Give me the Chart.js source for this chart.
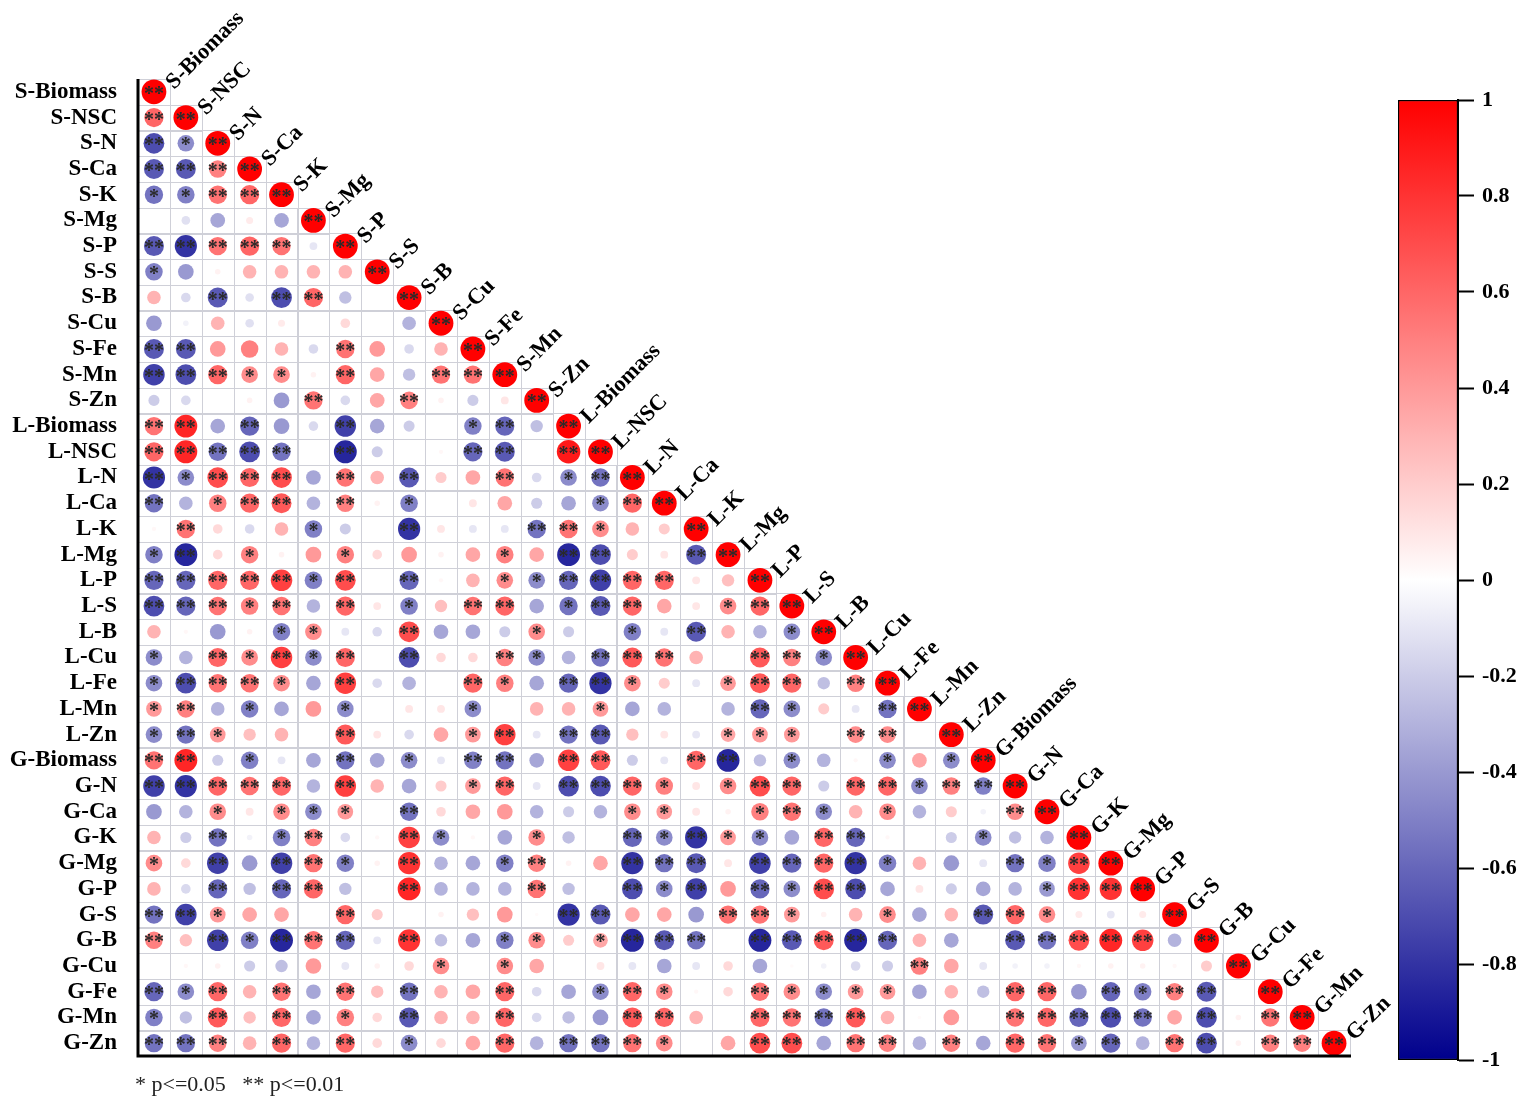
<!DOCTYPE html>
<html>
<head>
<meta charset="utf-8">
<script src="https://cdn.jsdelivr.net/npm/chart.js@4/dist/chart.umd.min.js"></script>
<style>
  html,body{margin:0;padding:0;background:#fff;}
  #wrap{position:relative;width:1535px;height:1103px;}
  #main{position:absolute;left:0;top:0;}
  #cbar{position:absolute;left:1380px;top:0;}
</style>
</head>
<body>
<div id="wrap">
  <canvas id="main" width="1535" height="1103"></canvas>
  <canvas id="cbar" width="155" height="1103"></canvas>
</div>
<script>
// ---- tick labels (variables) ----
const varNames = ["S-Biomass","S-NSC","S-N","S-Ca","S-K","S-Mg","S-P","S-S","S-B","S-Cu","S-Fe","S-Mn","S-Zn",
  "L-Biomass","L-NSC","L-N","L-Ca","L-K","L-Mg","L-P","L-S","L-B","L-Cu","L-Fe","L-Mn","L-Zn",
  "G-Biomass","G-N","G-Ca","G-K","G-Mg","G-P","G-S","G-B","G-Cu","G-Fe","G-Mn","G-Zn"];

// ---- correlation values (lower triangle rows) ----
const corrS = [
  [1],
  [0.6,1],
  [-0.7,-0.45,1],
  [-0.65,-0.65,0.5,1],
  [-0.55,-0.5,0.55,0.6,1],
  [0,-0.12,-0.35,0.08,-0.35,1],
  [-0.65,-0.8,0.55,0.6,0.55,-0.1,1],
  [-0.5,-0.4,0.05,0.3,0.3,0.3,0.3,1],
  [0.3,-0.15,-0.65,-0.12,-0.7,0.6,-0.25,0,1],
  [-0.4,-0.05,0.3,-0.12,0.08,0,0.15,0,-0.3,1],
  [-0.65,-0.65,0.4,0.5,0.3,-0.15,0.55,0.4,-0.15,0.3,1],
  [-0.75,-0.7,0.6,0.45,0.45,0.05,0.6,0.35,-0.25,0.55,0.55,1],
  [-0.2,-0.15,0,0.05,-0.4,0.55,-0.15,0.35,0.5,0.05,-0.2,0.1,1]
];
const corrL = [
  [0.55,0.85,-0.35,-0.6,-0.4,-0.15,-0.75,-0.35,-0.2,0,-0.5,-0.6,-0.25,1],
  [0.6,0.85,-0.55,-0.7,-0.55,0,-0.85,-0.2,0,0.03,-0.6,-0.65,0,0.9,1],
  [-0.8,-0.45,0.7,0.6,0.7,-0.35,0.55,0.3,-0.65,0.2,0.35,0.55,-0.15,-0.45,-0.55,1],
  [-0.55,-0.3,0.5,0.6,0.65,-0.3,0.5,0.05,-0.5,0,0.1,0.35,-0.2,-0.35,-0.45,0.6,1],
  [0.03,0.55,0.15,-0.15,0.3,-0.5,-0.2,0,-0.8,0.1,-0.1,-0.1,-0.55,0.55,0.45,0.3,0.2,1],
  [-0.5,-0.85,0.15,0.5,0.05,0.4,0.5,0.15,0.4,0.05,0.35,0.5,0.35,-0.85,-0.7,0.2,0.1,-0.65,1],
  [-0.6,-0.6,0.6,0.6,0.75,-0.5,0.7,0,-0.6,0.03,0.3,0.45,-0.45,-0.6,-0.75,0.6,0.6,0.1,0.25,1],
  [-0.7,-0.6,0.55,0.5,0.55,-0.3,0.6,0.1,-0.5,0.25,0.55,0.6,-0.35,-0.55,-0.65,0.6,0.35,0.1,0.45,0.6,1],
  [0.3,0.03,-0.4,0.05,-0.5,0.45,-0.1,-0.15,0.7,-0.35,-0.35,-0.2,0.45,-0.2,0,-0.5,-0.1,-0.65,0.3,-0.3,-0.45,1],
  [-0.45,-0.3,0.6,0.45,0.75,-0.45,0.6,0,-0.7,0.15,0.15,0.5,-0.45,-0.3,-0.55,0.65,0.55,0.3,0,0.65,0.5,-0.45,1],
  [-0.45,-0.7,0.55,0.55,0.45,-0.35,0.75,-0.15,-0.3,0,0.6,0.5,-0.35,-0.6,-0.8,0.45,0.2,-0.1,0.4,0.65,0.6,-0.25,0.5,1],
  [0.4,0.5,-0.3,-0.5,-0.35,0.4,-0.45,0,0.1,0.1,-0.45,0,0.3,0.3,0.4,-0.35,-0.3,0,-0.3,-0.6,-0.45,0.2,-0.1,-0.55,1],
  [-0.45,-0.55,0.4,0.25,0.3,0,0.65,0.1,-0.15,0.35,0.4,0.75,-0.1,-0.55,-0.65,0.25,0.1,-0.1,0.35,0.4,0.4,0,0.45,0.45,0,1]
];
const corrG = [
  [0.55,0.85,-0.2,-0.5,-0.1,-0.35,-0.55,-0.35,-0.45,-0.1,-0.5,-0.55,-0.35,0.75,0.65,-0.2,-0.1,0.6,-0.85,-0.25,-0.45,-0.3,0.03,-0.45,0.35,-0.45,1],
  [-0.75,-0.8,0.6,0.55,0.6,-0.3,0.75,0.3,-0.35,0.2,0.4,0.6,-0.1,-0.7,-0.7,0.6,0.5,0.1,0.45,0.7,0.6,-0.2,0.6,0.6,-0.45,0.5,-0.5,1],
  [-0.4,-0.3,0.45,0.1,0.45,-0.45,0.4,0,-0.55,0.15,0.35,0.4,-0.3,-0.2,-0.3,0.45,0.4,0.1,0.05,0.5,0.55,-0.45,0.3,0.45,-0.3,0.2,-0.05,0.45,1],
  [0.3,-0.2,-0.55,-0.05,-0.5,0.5,-0.15,0.03,0.75,-0.45,0.03,-0.35,0.45,-0.25,0,-0.6,-0.45,-0.8,0.4,-0.45,-0.35,0.6,-0.6,0.03,0,-0.2,-0.45,-0.25,-0.3,1],
  [0.45,0.15,-0.75,-0.4,-0.75,0.55,-0.5,0.05,0.8,-0.3,-0.35,-0.5,0.5,0.05,0.35,-0.8,-0.55,-0.65,0.1,-0.75,-0.6,0.6,-0.8,-0.5,0.3,-0.4,-0.1,-0.55,-0.5,0.75,1],
  [0.3,-0.15,-0.6,-0.25,-0.6,0.6,-0.25,0,0.85,-0.3,-0.3,-0.3,0.55,-0.25,0,-0.7,-0.45,-0.75,0.4,-0.6,-0.45,0.7,-0.7,-0.35,0.1,-0.2,-0.35,-0.3,-0.4,0.8,0.8,1],
  [-0.55,-0.75,0.4,0.35,0.35,0,0.6,0.2,0,0.05,0.25,0.4,0.02,-0.8,-0.65,0.35,0.35,-0.4,0.55,0.55,0.4,0.05,0.3,0.45,-0.35,0.3,-0.65,0.6,0.45,0.08,-0.1,0.08,1],
  [0.5,0.25,-0.75,-0.5,-0.85,0.55,-0.6,-0.1,0.8,-0.25,-0.35,-0.5,0.45,0.2,0.35,-0.85,-0.65,-0.55,0,-0.85,-0.65,0.65,-0.85,-0.6,0.3,-0.35,0,-0.65,-0.55,0.7,0.85,0.75,-0.3,1],
  [0,0.03,0.05,-0.2,-0.25,0.4,-0.1,0.05,0.15,0.45,0,0.45,0.35,0,0.1,-0.1,-0.35,-0.1,0.15,-0.35,0.02,-0.05,-0.15,-0.2,0.5,0.35,-0.1,-0.05,-0.05,0.03,0.05,0.05,0.03,0.2,1],
  [-0.6,-0.45,0.6,0.3,0.55,-0.35,0.55,0.25,-0.55,0.3,0.35,0.6,-0.15,-0.35,-0.45,0.6,0.45,0.03,0.15,0.55,0.45,-0.45,0.4,0.4,-0.35,0.3,-0.25,0.6,0.6,-0.4,-0.6,-0.5,0.5,-0.65,0,1],
  [-0.5,-0.25,0.65,0.25,0.6,-0.35,0.5,0.15,-0.65,0.3,0.3,0.6,-0.15,-0.25,-0.4,0.65,0.6,0.3,0,0.6,0.55,-0.55,0.65,0.3,0.02,0.4,0,0.55,0.6,-0.6,-0.7,-0.55,0.35,-0.7,0.05,0.55,1],
  [-0.55,-0.55,0.5,0.3,0.6,-0.3,0.6,0.15,-0.45,0.15,0.35,0.6,-0.3,-0.55,-0.55,0.55,0.45,0,0.35,0.7,0.7,-0.35,0.55,0.5,-0.3,0.5,-0.35,0.6,0.55,-0.4,-0.6,-0.3,0.55,-0.7,0.05,0.5,0.5,1]
];

// ---- significance marks per row (0 none, 1 = *, 2 = **) ----
const starsS = ["2","22","212","2222","11222","000002","2222202","10000002","002022002","0000000002",
  "22000020002","222110200222","0000020020002"];
const starsL = ["22020020001202","222220200022022","2122202020020122","20122020100000122",
  "020001002000221002","1201001000010220022","22222120200112222002","222120201022012200122",
  "0000110020001001020012","10212120200210222002212","122210200021022100122022",
  "1201001000100010000210022","12100020001202200011102202"];
const starsG = ["220100201022022002201001012","2222202000120222101220221222",
  "00101110200000011001210100022","002012002100100212110220001002",
  "1020221020012002220222210002122","00202200200020021202122000001222",
  "221000200000022000221001002210002","2021222020011012220222220002222202",
  "00000000010100000000000020000000002","212020202002001210021111000220212202",
  "1020201020020002200222200002222202022","22202020100202221002202202022120220222"];
const footnote = "* p<=0.05   ** p<=0.01";
const cbarTicks = { min: -1, max: 1, step: 0.2 };

// ---- build points ----
const allCorr = corrS.concat(corrL, corrG);
const allStars = starsS.concat(starsL, starsG);
const points = [];
allCorr.forEach((row, r) => {
  row.forEach((v, c) => points.push({ x: c, y: r, v: v, s: +(allStars[r][c] || 0) }));
});

function corrColor(v) {
  const a = Math.min(1, Math.abs(v));
  const g = Math.round(255 * (1 - a));
  if (v >= 0) return `rgb(255,${g},${g})`;
  const b = Math.round(255 - 115 * a);
  return `rgb(${g},${g},${b})`;
}

const SERIF = "'Liberation Serif','Times New Roman',serif";
const RMAX = 12.4;

const decor = {
  id: 'decor',
  beforeDatasetsDraw(chart) {
    const { ctx, scales: { x, y } } = chart;
    ctx.save();
    ctx.strokeStyle = '#cfd0d8';
    ctx.lineWidth = 1;
    for (let r = 0; r < varNames.length; r++) {
      for (let c = 0; c <= r; c++) {
        const x0 = x.getPixelForValue(c - 0.5), x1 = x.getPixelForValue(c + 0.5);
        const y0 = y.getPixelForValue(r - 0.5), y1 = y.getPixelForValue(r + 0.5);
        ctx.strokeRect(Math.round(x0) + 0.5, Math.round(y0) + 0.5, Math.round(x1 - x0), Math.round(y1 - y0));
      }
    }
    ctx.restore();
  },
  afterDatasetsDraw(chart) {
    const { ctx, chartArea: ca, scales: { x, y } } = chart;
    ctx.save();
    // significance stars
    ctx.fillStyle = '#2a2a2a';
    ctx.font = `bold 20px ${SERIF}`;
    ctx.textAlign = 'center';
    ctx.textBaseline = 'alphabetic';
    points.forEach(p => {
      if (!p.s) return;
      ctx.fillText(p.s === 2 ? '**' : '*', x.getPixelForValue(p.x), y.getPixelForValue(p.y) + 8);
    });
    // diagonal labels
    ctx.fillStyle = '#000';
    ctx.font = `bold 22.5px ${SERIF}`;
    ctx.textAlign = 'left';
    ctx.textBaseline = 'middle';
    varNames.forEach((n, i) => {
      ctx.save();
      ctx.translate(x.getPixelForValue(i) + 16, y.getPixelForValue(i) - 6);
      ctx.rotate(-Math.PI / 4);
      ctx.fillText(n, 0, 0);
      ctx.restore();
    });
    // axis lines
    ctx.strokeStyle = '#000';
    ctx.lineWidth = 3;
    ctx.beginPath();
    ctx.moveTo(ca.left, ca.top);
    ctx.lineTo(ca.left, ca.bottom);
    ctx.lineTo(ca.right + 1, ca.bottom);
    ctx.stroke();
    // footnote
    ctx.fillStyle = '#222';
    ctx.font = `22px ${SERIF}`;
    ctx.textAlign = 'left';
    ctx.textBaseline = 'alphabetic';
    ctx.fillText(footnote, ca.left - 3, ca.bottom + 35);
    ctx.restore();
  }
};

new Chart(document.getElementById('main'), {
  type: 'scatter',
  data: {
    datasets: [{
      data: points,
      pointRadius: c => c.raw ? RMAX * Math.sqrt(Math.abs(c.raw.v)) : 0,
      pointHoverRadius: c => c.raw ? RMAX * Math.sqrt(Math.abs(c.raw.v)) : 0,
      backgroundColor: c => c.raw ? corrColor(c.raw.v) : '#fff',
      borderWidth: 0,
      pointBorderWidth: 0
    }]
  },
  options: {
    responsive: false,
    animation: false,
    events: [],
    layout: { padding: { left: 0, top: 79, right: 185, bottom: 47 } },
    plugins: { legend: { display: false }, tooltip: { enabled: false } },
    scales: {
      x: { type: 'linear', min: -0.5, max: varNames.length - 0.5, display: false },
      y: {
        type: 'linear', min: -0.5, max: varNames.length - 0.5, reverse: true,
        afterBuildTicks: s => { s.ticks = varNames.map((n, i) => ({ value: i })); },
        afterFit: s => { s.width = 138; },
        ticks: {
          autoSkip: false, padding: 21, color: '#000',
          font: { family: SERIF, size: 23, weight: 'bold' },
          callback: (v, i) => varNames[i]
        },
        grid: { display: false, drawTicks: false },
        border: { display: false }
      }
    }
  },
  plugins: [decor]
});

// ---- colour bar ----
new Chart(document.getElementById('cbar'), {
  type: 'bar',
  data: {
    labels: [''],
    datasets: [{
      data: [[cbarTicks.min, cbarTicks.max]],
      backgroundColor: c => {
        const ch = c.chart, ca = ch.chartArea;
        if (!ca) return '#fff';
        const ys = ch.scales.y;
        const g = ch.ctx.createLinearGradient(0, ys.getPixelForValue(-1), 0, ys.getPixelForValue(1));
        for (let k = 0; k <= 20; k++) {
          const v = -1 + k * 0.1;
          g.addColorStop(k / 20, corrColor(v));
        }
        return g;
      },
      borderColor: '#000',
      borderWidth: 1.5,
      borderSkipped: false,
      barPercentage: 1,
      categoryPercentage: 1
    }]
  },
  options: {
    responsive: false,
    animation: false,
    events: [],
    layout: { padding: { left: 18, top: 100, right: 0, bottom: 43 } },
    plugins: { legend: { display: false }, tooltip: { enabled: false } },
    scales: {
      x: { display: false },
      y: {
        position: 'right', min: cbarTicks.min, max: cbarTicks.max,
        afterFit: s => { s.width = 77; },
        ticks: {
          stepSize: cbarTicks.step, padding: 8, color: '#000',
          font: { family: SERIF, size: 22, weight: 'bold' },
          callback: v => (Math.abs(v) < 1e-9 ? '0' : String(+v.toFixed(1)))
        },
        grid: { drawOnChartArea: false, drawTicks: true, tickLength: 16, tickColor: '#000', tickWidth: 2 },
        border: { display: true, color: '#000', width: 2 }
      }
    }
  }
});
</script>
</body>
</html>
